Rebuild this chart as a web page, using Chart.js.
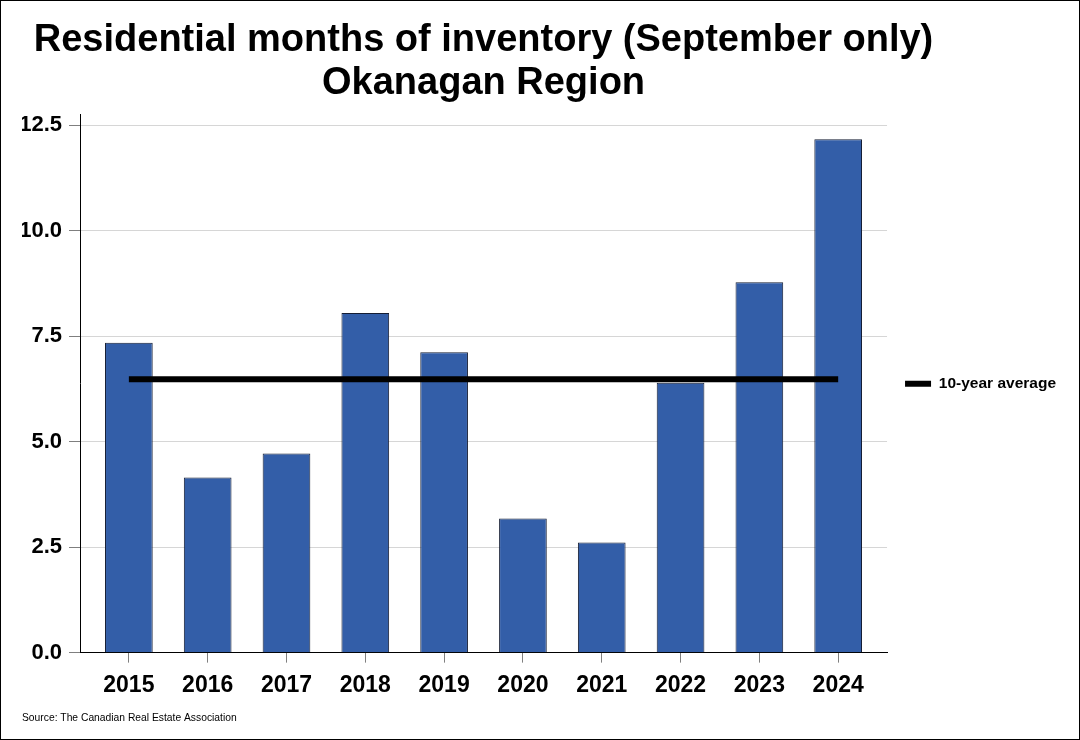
<!DOCTYPE html>
<html>
<head>
<meta charset="utf-8">
<script src="https://cdn.jsdelivr.net/npm/chart.js@4/dist/chart.umd.min.js"></script>
<style>
  html, body { margin: 0; padding: 0; background: #ffffff; }
  #wrap { width: 1080px; height: 740px; position: relative; }
</style>
</head>
<body>
<div id="wrap"><canvas id="c" width="1080" height="740"></canvas></div>
<script>
// ---- data ----
const categories = ['2015', '2016', '2017', '2018', '2019', '2020', '2021', '2022', '2023', '2024'];
const monthsOfInventory = [7.35, 4.15, 4.72, 8.05, 7.12, 3.18, 2.61, 6.40, 8.78, 12.17];
const tenYearAverage = 6.48;
const yTicks = [0, 2.5, 5, 7.5, 10, 12.5];
const titleLines = ['Residential months of inventory (September only)', 'Okanagan Region'];
const legendLabel = '10-year average';
const sourceNote = 'Source: The Canadian Real Estate Association';

const FONT = "'Liberation Sans', Arial, Helvetica, sans-serif";

const barPoints = categories.map((c, i) => ({ x: i, y: monthsOfInventory[i] }));
const avgPoints = [{ x: 0, y: tenYearAverage }, { x: categories.length - 1, y: tenYearAverage }];

const frame = {
  id: 'frame',
  afterLayout(chart) {
    // centre the title over the plot area while giving it room to be wider than the plot
    const t = chart.titleBlock;
    if (t) {
      const cx = (chart.chartArea.left + chart.chartArea.right) / 2;
      t.left = 0;
      t.right = cx * 2;
      t.width = cx * 2;
    }
  },
  beforeDraw(chart) {
    const ctx = chart.ctx;
    ctx.save();
    ctx.fillStyle = '#ffffff';
    ctx.fillRect(0, 0, chart.width, chart.height);
    ctx.restore();
  },
  afterDraw(chart) {
    const ctx = chart.ctx;
    ctx.save();
    ctx.strokeStyle = '#000000';
    ctx.lineWidth = 1;
    ctx.strokeRect(0.5, 0.5, chart.width - 1, chart.height - 1);
    ctx.restore();
  }
};

new Chart(document.getElementById('c'), {
  type: 'bar',
  data: {
    datasets: [
      {
        type: 'line',
        label: legendLabel,
        data: avgPoints,
        borderColor: '#000000',
        backgroundColor: '#000000',
        borderWidth: 6,
        pointRadius: 0,
        tension: 0,
        order: 0
      },
      {
        type: 'bar',
        label: 'Months of inventory',
        data: barPoints,
        backgroundColor: '#335ea8',
        borderColor: '#151d33',
        borderWidth: 1,
        barPercentage: 0.605,
        categoryPercentage: 1,
        order: 1
      }
    ]
  },
  options: {
    responsive: false,
    animation: false,
    events: [],
    layout: { padding: { top: 16, left: 22, right: 14, bottom: 16 } },
    plugins: {
      title: {
        display: true,
        text: titleLines,
        fullSize: false,
        color: '#000000',
        font: { family: FONT, size: 38, weight: 'bold', lineHeight: 1.13 },
        padding: { top: 3, bottom: 10 }
      },
      subtitle: {
        display: true,
        text: sourceNote,
        position: 'bottom',
        align: 'start',
        fullSize: true,
        color: '#000000',
        font: { family: FONT, size: 10.3, weight: 'normal', lineHeight: 1.2 },
        padding: 0
      },
      legend: {
        display: true,
        position: 'right',
        align: 'center',
        fullSize: false,
        labels: {
          color: '#000000',
          font: { family: FONT, size: 15.5, weight: 'bold' },
          boxWidth: 26,
          boxHeight: 6,
          padding: 18,
          generateLabels: () => [{
            text: legendLabel,
            fillStyle: '#000000',
            strokeStyle: '#000000',
            lineWidth: 0,
            hidden: false,
            datasetIndex: 0
          }]
        }
      },
      tooltip: { enabled: false }
    },
    scales: {
      x: {
        type: 'linear',
        min: -0.62,
        max: 9.62,
        offset: false,
        afterBuildTicks: (scale) => { scale.ticks = categories.map((c, i) => ({ value: i })); },
        afterFit: (scale) => { scale.height = 59; },
        ticks: {
          callback: (v) => categories[v] ?? '',
          color: '#000000',
          font: { family: FONT, size: 23, weight: 'bold' },
          padding: 9,
          maxRotation: 0,
          autoSkip: false
        },
        grid: {
          offset: false,
          drawOnChartArea: false,
          drawTicks: true,
          tickLength: 10,
          tickColor: '#7f7f7f',
          tickWidth: 1
        },
        border: { display: true, color: '#000000', width: 1 }
      },
      y: {
        min: 0,
        max: 12.75,
        afterBuildTicks: (scale) => { scale.ticks = yTicks.map(v => ({ value: v })); },
        afterFit: (scale) => { scale.width = 58; },
        ticks: {
          callback: (v) => Number(v).toFixed(1),
          color: '#000000',
          font: { family: FONT, size: 22, weight: 'bold' },
          padding: 7
        },
        grid: {
          color: '#d6d6d6',
          lineWidth: 1,
          drawTicks: true,
          tickLength: 11,
          tickColor: '#7f7f7f'
        },
        border: { display: true, color: '#000000', width: 1 }
      }
    }
  },
  plugins: [frame]
});
</script>
</body>
</html>
